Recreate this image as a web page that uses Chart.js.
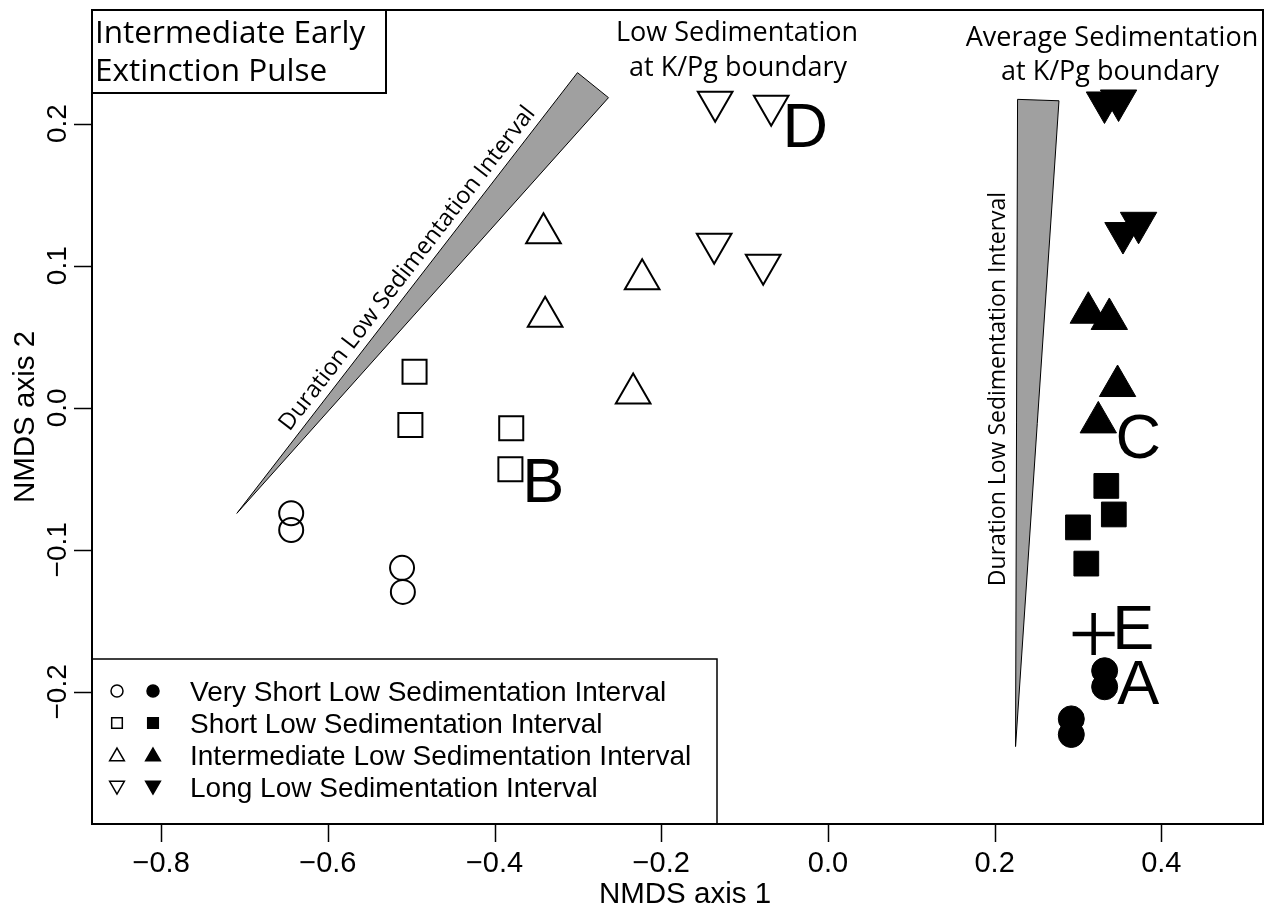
<!DOCTYPE html>
<html>
<head>
<meta charset="utf-8">
<script src="https://cdn.jsdelivr.net/npm/chart.js@4.4.1/dist/chart.umd.min.js"></script>
<style>
  html, body { margin: 0; padding: 0; background: #fff; }
  #wrap { width: 1279px; height: 910px; }
</style>
</head>
<body>
<div id="wrap"><canvas id="chart" width="1279" height="910"></canvas></div>
<script>
// axes
const xRange = [-0.883, 0.522];
const yRange = [-0.293, 0.28];
const xTicks = [-0.8, -0.6, -0.4, -0.2, 0.0, 0.2, 0.4];
const xTickLabels = ["\u22120.8", "\u22120.6", "\u22120.4", "\u22120.2", "0.0", "0.2", "0.4"];
const yTicks = [-0.2, -0.1, 0.0, 0.1, 0.2];
const yTickLabels = ["\u22120.2", "\u22120.1", "0.0", "0.1", "0.2"];

// low sedimentation at K/Pg boundary (open symbols)
const veryShortLowX = [-0.644, -0.644, -0.511, -0.510];
const veryShortLowY = [-0.0743, -0.0860, -0.1127, -0.1296];
const shortLowX = [-0.496, -0.501, -0.380, -0.381];
const shortLowY = [0.0254, -0.0121, -0.0144, -0.0433];
const intermediateLowX = [-0.3413, -0.3393, -0.2229, -0.2337];
const intermediateLowY = [0.1229, 0.0640, 0.0905, 0.0100];
const longLowX = [-0.1353, -0.0681, -0.1365, -0.0777];
const longLowY = [0.2154, 0.2126, 0.1154, 0.1006];

// average sedimentation at K/Pg boundary (filled symbols)
const veryShortAvgX = [0.332, 0.332, 0.292, 0.292];
const veryShortAvgY = [-0.1851, -0.1964, -0.2190, -0.2300];
const shortAvgX = [0.334, 0.343, 0.300, 0.310];
const shortAvgY = [-0.0550, -0.0751, -0.0842, -0.1097];
const intermediateAvgX = [0.3124, 0.3376, 0.3475, 0.3244];
const intermediateAvgY = [0.0669, 0.0625, 0.0153, -0.0103];
const longAvgX = [0.3318, 0.3487, 0.3540, 0.3727];
const longAvgY = [0.2149, 0.2163, 0.1230, 0.1302];

// point E
const crossX = [0.3188];
const crossY = [-0.1592];

// letters
const letterText = ["A", "B", "C", "D", "E"];
const letterX = [0.3724, -0.3417, 0.3724, -0.0272, 0.3664];
const letterY = [-0.1931, -0.0508, -0.0198, 0.199, -0.1543];

// duration wedges (tip first)
const slantWedgeX = [-0.7092, -0.3005, -0.2633];
const slantWedgeY = [-0.0743, 0.2359, 0.2183];
const uprightWedgeX = [0.2251, 0.2275, 0.2772];
const uprightWedgeY = [-0.2385, 0.2171, 0.2161];

const legendLabels = [
  "Very Short Low Sedimentation Interval",
  "Short Low Sedimentation Interval",
  "Intermediate Low Sedimentation Interval",
  "Long Low Sedimentation Interval"
];
const legendStyles = ["circle", "rect", "triangle", "triangle"];
const legendRotation = [0, 0, 0, 180];

const RFONT = '"Liberation Sans", Arial, sans-serif';
const MFONT = '"Open Sans", "Noto Sans", sans-serif';

function pts(xs, ys) {
  return xs.map((x, i) => ({ x: x, y: ys[i] }));
}

function openSet(label, xs, ys, style, radius, rot) {
  return {
    label: label,
    data: pts(xs, ys),
    pointStyle: style,
    pointRadius: radius,
    pointRotation: rot || 0,
    pointBorderWidth: 2,
    pointBorderColor: "#000",
    pointBackgroundColor: "rgba(0,0,0,0)"
  };
}

function filledSet(label, xs, ys, style, radius, rot) {
  return {
    label: label,
    data: pts(xs, ys),
    pointStyle: style,
    pointRadius: radius,
    pointRotation: rot || 0,
    pointBorderWidth: 1,
    pointBorderColor: "#000",
    pointBackgroundColor: "#000"
  };
}

const decorations = {
  id: "decorations",
  beforeDatasetsDraw(chart) {
    const ctx = chart.ctx;
    const xs = chart.scales.x, ys = chart.scales.y;
    ctx.save();
    [[slantWedgeX, slantWedgeY], [uprightWedgeX, uprightWedgeY]].forEach(w => {
      ctx.beginPath();
      w[0].forEach((v, i) => {
        const px = xs.getPixelForValue(v), py = ys.getPixelForValue(w[1][i]);
        if (i === 0) ctx.moveTo(px, py); else ctx.lineTo(px, py);
      });
      ctx.closePath();
      ctx.fillStyle = "#a0a0a0";
      ctx.fill();
      ctx.strokeStyle = "#000";
      ctx.lineWidth = 1;
      ctx.stroke();
    });

    // slanted wedge label along its upper edge
    const tx = xs.getPixelForValue(slantWedgeX[0]), ty = ys.getPixelForValue(slantWedgeY[0]);
    const ex = xs.getPixelForValue(slantWedgeX[1]), ey = ys.getPixelForValue(slantWedgeY[1]);
    const ang = Math.atan2(ey - ty, ex - tx);
    const len = Math.hypot(ex - tx, ey - ty);
    const along = len * 0.535, off = 8;
    const cx = tx + Math.cos(ang) * along + Math.sin(ang) * off;
    const cy = ty + Math.sin(ang) * along - Math.cos(ang) * off;
    ctx.fillStyle = "#000";
    ctx.font = "23.5px " + MFONT;
    ctx.textAlign = "center";
    ctx.textBaseline = "alphabetic";
    ctx.save();
    ctx.translate(cx, cy);
    ctx.rotate(ang);
    ctx.fillText("Duration Low Sedimentation Interval", 0, 0);
    ctx.restore();

    // upright wedge label
    ctx.font = "23px " + MFONT;
    ctx.save();
    ctx.translate(1005, 389);
    ctx.rotate(-Math.PI / 2);
    ctx.fillText("Duration Low Sedimentation Interval", 0, 0);
    ctx.restore();
    ctx.restore();
  },
  afterDraw(chart) {
    const ctx = chart.ctx;
    const a = chart.chartArea;
    const xs = chart.scales.x, ys = chart.scales.y;
    ctx.save();
    ctx.strokeStyle = "#000";
    ctx.fillStyle = "#000";

    // frame
    ctx.lineWidth = 2;
    ctx.strokeRect(a.left, a.top, a.right - a.left, a.bottom - a.top);

    // ticks
    ctx.lineWidth = 1.5;
    ctx.beginPath();
    xTicks.forEach(v => {
      const px = Math.round(xs.getPixelForValue(v)) + 0.5;
      ctx.moveTo(px, a.bottom);
      ctx.lineTo(px, a.bottom + 18);
    });
    yTicks.forEach(v => {
      const py = Math.round(ys.getPixelForValue(v)) + 0.5;
      ctx.moveTo(a.left, py);
      ctx.lineTo(a.left - 18, py);
    });
    ctx.stroke();

    // tick labels
    ctx.font = "29px " + RFONT;
    ctx.textAlign = "center";
    ctx.textBaseline = "alphabetic";
    xTicks.forEach((v, i) => {
      ctx.fillText(xTickLabels[i], xs.getPixelForValue(v), 872);
    });
    ctx.font = "28px " + RFONT;
    yTicks.forEach((v, i) => {
      ctx.save();
      ctx.translate(66, ys.getPixelForValue(v));
      ctx.rotate(-Math.PI / 2);
      ctx.fillText(yTickLabels[i], 0, 0);
      ctx.restore();
    });

    // axis titles
    ctx.font = "29.5px " + RFONT;
    ctx.fillText("NMDS axis 1", 685, 903);
    ctx.save();
    ctx.translate(34, (a.top + a.bottom) / 2);
    ctx.rotate(-Math.PI / 2);
    ctx.fillText("NMDS axis 2", 0, 0);
    ctx.restore();

    // letters
    ctx.font = "63px " + RFONT;
    letterText.forEach((t, i) => {
      ctx.fillText(t, xs.getPixelForValue(letterX[i]), ys.getPixelForValue(letterY[i]) + 22);
    });

    // headings
    ctx.font = "27px " + MFONT;
    ctx.fillText("Low Sedimentation", 737, 41);
    ctx.fillText("at K/Pg boundary", 738, 76);
    ctx.fillText("Average Sedimentation", 1112, 46);
    ctx.fillText("at K/Pg boundary", 1110, 80);

    // title box
    ctx.lineWidth = 2;
    ctx.strokeRect(a.left, a.top, 386 - a.left, 93 - a.top);
    ctx.font = "31.5px " + MFONT;
    ctx.textAlign = "left";
    ctx.fillText("Intermediate Early", 95, 43);
    ctx.fillText("Extinction Pulse", 95, 81);

    // legend
    ctx.lineWidth = 1.5;
    ctx.strokeRect(a.left, 659, 717 - a.left, a.bottom - 659);
    ctx.font = "28px " + RFONT;
    legendLabels.forEach((lab, i) => {
      const y = 691 + i * 32;
      const style = legendStyles[i];
      const r = style === "circle" ? 6 : (style === "rect" ? 7.5 : 8.5);
      const yy = style === "triangle" ? y + (legendRotation[i] ? -1.5 : 1.5) : y;
      ctx.lineWidth = 1.5;
      ctx.fillStyle = "rgba(0,0,0,0)";
      Chart.helpers.drawPoint(ctx, { pointStyle: style, radius: r, rotation: legendRotation[i], borderWidth: 1.5 }, 117, yy);
      ctx.fillStyle = "#000";
      Chart.helpers.drawPoint(ctx, { pointStyle: style, radius: r, rotation: legendRotation[i], borderWidth: 1.5 }, 153, yy);
      ctx.fillText(lab, 190, y + 10);
    });
    ctx.restore();
  }
};

new Chart(document.getElementById("chart"), {
  type: "scatter",
  data: {
    datasets: [
      openSet("Very Short, low", veryShortLowX, veryShortLowY, "circle", 12),
      openSet("Short, low", shortLowX, shortLowY, "rect", 17),
      openSet("Intermediate, low", intermediateLowX, intermediateLowY, "triangle", 20),
      openSet("Long, low", longLowX, longLowY, "triangle", 20, 180),
      filledSet("Very Short, average", veryShortAvgX, veryShortAvgY, "circle", 13),
      filledSet("Short, average", shortAvgX, shortAvgY, "rect", 17.5),
      filledSet("Intermediate, average", intermediateAvgX, intermediateAvgY, "triangle", 21),
      filledSet("Long, average", longAvgX, longAvgY, "triangle", 21, 180),
      {
        label: "E",
        data: pts(crossX, crossY),
        pointStyle: "cross",
        pointRadius: 21,
        pointBorderWidth: 4.5,
        pointBorderColor: "#000"
      }
    ]
  },
  options: {
    responsive: false,
    animation: false,
    devicePixelRatio: 1,
    layout: { autoPadding: false, padding: { top: 10, right: 16, left: 0, bottom: 0 } },
    plugins: {
      legend: { display: false },
      tooltip: { enabled: false }
    },
    scales: {
      x: {
        type: "linear",
        min: xRange[0],
        max: xRange[1],
        grid: { display: false },
        border: { display: false },
        ticks: { display: false },
        afterFit: s => { s.height = 86; }
      },
      y: {
        type: "linear",
        min: yRange[0],
        max: yRange[1],
        grid: { display: false },
        border: { display: false },
        ticks: { display: false },
        afterFit: s => { s.width = 92; }
      }
    }
  },
  plugins: [decorations]
});
</script>
</body>
</html>
